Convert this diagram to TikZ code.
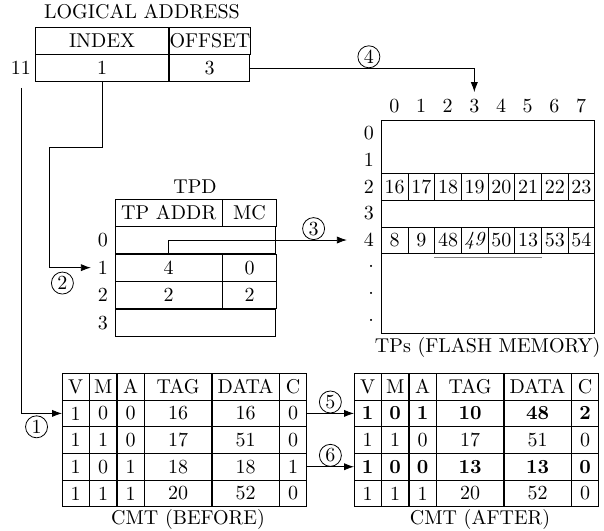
\documentclass[tikz,border=0pt]{standalone}
\usepackage{amsmath}
\usepackage{tikz}
\usetikzlibrary{positioning, arrows.meta, arrows}

\begin{document}
\begin{tikzpicture}[x=0.5pt,y=-0.5pt,>={Latex[length=5pt,width=3.6pt]},
    cell/.style={draw, inner sep=0pt, minimum height=13.33pt, minimum width=#1, anchor=north west},
    cell/.default=13.33pt,
    stepno/.style={circle, draw, inner sep=0.5pt, minimum size=11pt}]
    \useasboundingbox (0,0) rectangle (604,530);

    \node[cell=66.67pt] (lidx) at (35,27) {INDEX};
    \node[cell=40pt] (loff) at (lidx.north east) {OFFSET};
    \node[cell=66.67pt] (lival) at (lidx.south west) {1};
    \node[cell=40pt] (loval) at (lival.north east) {3};
    \node (ltitle) at (142,11.5) {LOGICAL ADDRESS};
    \node[left=-1.5pt of lival] (n11) {11};

    \node[draw, inner sep=0pt, minimum size=106.67pt, anchor=north west] (tps) at (381,120) {};
    \foreach \c in {0,...,7}
        \node[above] (tc\c) at ({394.33+26.67*\c},120) {\c};
    \foreach \r/\lab in {0/0,1/1,2/2,3/3,4/4,5/.,6/.,7/.}
        \node[left] (tr\r) at (381,{133.33+26.67*\r}) {\lab};
    \foreach \v [count=\i from 0] in {16,17,18,19,20,21,22,23}
        \node[cell] (tpa\i) at ({381+26.67*\i},173.33) {\v};
    \foreach \v [count=\i from 0] in {8,9,48,\textit{49},50,13,53,54}
        \node[cell] (tpb\i) at ({381+26.67*\i},226.67) {\v};
    \draw[gray, semithick] ([yshift=-1.8pt]tpb2.south west) -- ([yshift=-1.8pt]tpb5.south east);
    \node (tplab) at (487.7,347) {TPs (FLASH MEMORY)};

    \node[cell=53.33pt] (ph1) at (115,199) {TP ADDR};
    \node[cell=26.67pt] (ph2) at (ph1.north east) {MC};
    \node[cell=80pt] (p0) at (ph1.south west) {};
    \node[cell=53.33pt] (p1a) at (p0.south west) {4};
    \node[cell=26.67pt] (p1b) at (p1a.north east) {0};
    \node[cell=53.33pt] (p2a) at (p1a.south west) {2};
    \node[cell=26.67pt] (p2b) at (p2a.north east) {2};
    \node[cell=80pt] (p3) at (p2a.south west) {};
    \node (tpdlab) at (195,187) {TPD};
    \foreach \r/\n in {0/p0,1/p1a,2/p2a,3/p3}
        \node[left=0pt of \n] (pl\r) {\r};

    \foreach \va/\vb/\vc/\vd/\ve/\vf [count=\i from 0] in
        {V/M/A/TAG/DATA/C, 1/0/0/16/16/0, 1/1/0/17/51/0, 1/0/1/18/18/1, 1/1/1/20/52/0} {
        \node[cell] (b\i1) at (62,{373+26.67*\i}) {\va};
        \node[cell] (b\i2) at (b\i1.north east) {\vb};
        \node[cell] (b\i3) at (b\i2.north east) {\vc};
        \node[cell=33.33pt] (b\i4) at (b\i3.north east) {\vd};
        \node[cell=33.33pt] (b\i5) at (b\i4.north east) {\ve};
        \node[cell] (b\i6) at (b\i5.north east) {\vf};
    }
    \node (bcap) at (188,519) {CMT (BEFORE)};

    \foreach \va/\vb/\vc/\vd/\ve/\vf [count=\i from 0] in
        {V/M/A/TAG/DATA/C,
         \textbf{1}/\textbf{0}/\textbf{1}/\textbf{10}/\textbf{48}/\textbf{2},
         1/1/0/17/51/0,
         \textbf{1}/\textbf{0}/\textbf{0}/\textbf{13}/\textbf{13}/\textbf{0},
         1/1/1/20/52/0} {
        \node[cell] (a\i1) at (354,{373+26.67*\i}) {\va};
        \node[cell] (a\i2) at (a\i1.north east) {\vb};
        \node[cell] (a\i3) at (a\i2.north east) {\vc};
        \node[cell=33.33pt] (a\i4) at (a\i3.north east) {\vd};
        \node[cell=33.33pt] (a\i5) at (a\i4.north east) {\ve};
        \node[cell] (a\i6) at (a\i5.north east) {\vf};
    }
    \node (acap) at (480,519) {CMT (AFTER)};

    \coordinate (bend) at (49,147);
    \draw[->, shorten <=3pt] (n11) |- node[stepno, pos=0.69, below=1pt] {1} (b11.west);
    \draw[->] (lival.south) |- (bend) |- node[stepno, pos=0.66, below=2pt] {2} (pl1.west);
    \draw[->, shorten >=5pt] (p1a.north) |- node[stepno, pos=0.885, above] {3} (tr4.west);
    \draw[->] (loval.east) -| node[stepno, pos=0.265, above] {4} (tc3.north);
    \draw[->] (b16.east) -- node[stepno, above] {5} (a11.west);
    \draw[->] (b36.east) -- node[stepno, above] {6} (a31.west);
\end{tikzpicture}
\end{document}
